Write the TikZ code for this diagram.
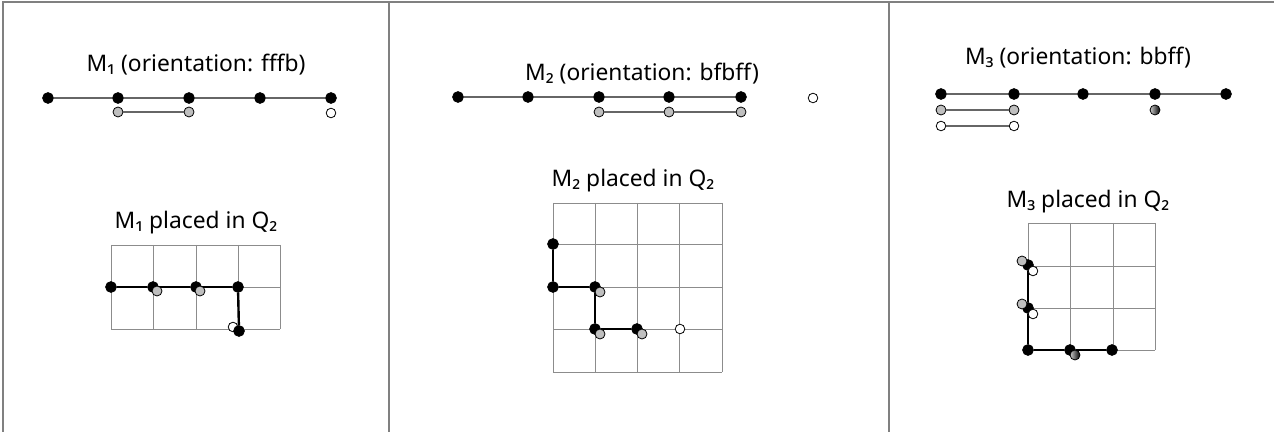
\documentclass[tikz,border=0pt]{standalone}
\usepackage{fontspec}
\setmainfont{Noto Sans}
\usepackage{tikz}
\usetikzlibrary{positioning}

\begin{document}
\begin{tikzpicture}[x=0.5pt,y=-0.5pt]
	\tikzstyle{Dot}		= [circle, draw, solid, minimum size=5pt, inner sep=0pt]
	\tikzstyle{B}		= [fill=black, minimum size=5.4pt]
	\tikzstyle{G}		= [fill=black!25]
	\tikzstyle{W}		= [fill=white, minimum size=4.8pt]
	\tikzstyle{Half}	= [left color=black!20, right color=black]
	\tikzstyle{Chain}	= [black!60, line width=0.75pt]
	\tikzstyle{Walk}	= [black, line width=1.2pt]
	\tikzstyle{Grid}	= [black!45, line width=0.4pt]
	\tikzstyle{Title}	= [anchor=base, inner sep=0pt, font=\fontsize{11.4}{13}\selectfont]
	\tikzstyle{Frame}	= [black!50, line width=0.6pt]

	\useasboundingbox (0,0) rectangle (1274,432);

	% frame
	\coordinate (f0) at (3,432);
	\coordinate (f1) at (3,2);
	\coordinate (f2) at (1274,2);
	\coordinate (d1) at (389,2);
	\coordinate (e1) at (389,432);
	\coordinate (d2) at (889,2);
	\coordinate (e2) at (889,432);
	\draw [Frame] (f0) -- (f1) -- (f2);
	\draw [Frame] (d1) -- (e1);
	\draw [Frame] (d2) -- (e2);

	% ---- M1 ----
	\node (t1) at (196,72) [Title] {M₁ (orientation: fffb)};
	\node (a1) at (48,98) [Dot][B] {};
	\node (a2) at (118,98) [Dot][B] {};
	\node (a3) at (189,98) [Dot][B] {};
	\node (a4) at (260,98) [Dot][B] {};
	\node (a5) at (331,98) [Dot][B] {};
	\node (b1) at (118,112) [Dot][G] {};
	\node (b2) at (189,112) [Dot][G] {};
	\node (c1) at (331,113) [Dot][W] {};
	\draw [Chain] (a1) to (a2);
	\draw [Chain] (a2) to (a3);
	\draw [Chain] (a3) to (a4);
	\draw [Chain] (a4) to (a5);
	\draw [Chain] (b1) to (b2);

	\node (q1) at (196,229) [Title] {M₁ placed in Q₂};
	\foreach \x in {111,153,196,238,280}
		\draw [Grid] (\x,245) -- (\x,329);
	\foreach \y in {245,287,329}
		\draw [Grid] (111,\y) -- (280,\y);
	\node (u1) at (233,327) [Dot][W] {};
	\node (p1) at (111,287) [Dot][B] {};
	\node (p2) at (153,287) [Dot][B] {};
	\node (p3) at (196,287) [Dot][B] {};
	\node (p4) at (238,287) [Dot][B] {};
	\node (p5) at (239,331) [Dot][B] {};
	\draw [Walk] (p1) to (p2);
	\draw [Walk] (p2) to (p3);
	\draw [Walk] (p3) to (p4);
	\draw [Walk] (p4) to (p5);
	\node (r1) at (157,291) [Dot][G] {};
	\node (r2) at (200,291) [Dot][G] {};

	% ---- M2 ----
	\node (t2) at (642,81) [Title] {M₂ (orientation: bfbff)};
	\node (a6) at (458,97) [Dot][B] {};
	\node (a7) at (528,97) [Dot][B] {};
	\node (a8) at (599,97) [Dot][B] {};
	\node (a9) at (669,97) [Dot][B] {};
	\node (a10) at (741,97) [Dot][B] {};
	\node (b3) at (599,112) [Dot][G] {};
	\node (b4) at (669,112) [Dot][G] {};
	\node (b5) at (741,112) [Dot][G] {};
	\node (c2) at (813,98) [Dot][W] {};
	\draw [Chain] (a6) to (a7);
	\draw [Chain] (a7) to (a8);
	\draw [Chain] (a8) to (a9);
	\draw [Chain] (a9) to (a10);
	\draw [Chain] (b3) to (b4);
	\draw [Chain] (b4) to (b5);

	\node (q2) at (633,187) [Title] {M₂ placed in Q₂};
	\foreach \x in {553,595,637,679,722}
		\draw [Grid] (\x,203) -- (\x,372);
	\foreach \y in {203,244,287,329,372}
		\draw [Grid] (553,\y) -- (722,\y);
	\node (p6) at (553,244) [Dot][B] {};
	\node (p7) at (553,287) [Dot][B] {};
	\node (p8) at (595,287) [Dot][B] {};
	\node (p9) at (595,329) [Dot][B] {};
	\node (p10) at (637,329) [Dot][B] {};
	\draw [Walk] (p6) to (p7);
	\draw [Walk] (p7) to (p8);
	\draw [Walk] (p8) to (p9);
	\draw [Walk] (p9) to (p10);
	\node (r3) at (600,292) [Dot][G] {};
	\node (r4) at (600,334) [Dot][G] {};
	\node (r5) at (642,334) [Dot][G] {};
	\node (u2) at (680,329) [Dot][W] {};

	% ---- M3 ----
	\node (t3) at (1078,65) [Title] {M₃ (orientation: bbff)};
	\node (a11) at (941,94) [Dot][B] {};
	\node (a12) at (1014,94) [Dot][B] {};
	\node (a13) at (1083,94) [Dot][B] {};
	\node (a14) at (1155,94) [Dot][B] {};
	\node (a15) at (1226,94) [Dot][B] {};
	\node (b6) at (941,110) [Dot][G] {};
	\node (b7) at (1014,110) [Dot][G] {};
	\node (b8) at (1155,110) [Dot][Half] {};
	\node (c3) at (941,126) [Dot][W] {};
	\node (c4) at (1014,126) [Dot][W] {};
	\draw [Chain] (a11) to (a12);
	\draw [Chain] (a12) to (a13);
	\draw [Chain] (a13) to (a14);
	\draw [Chain] (a14) to (a15);
	\draw [Chain] (b6) to (b7);
	\draw [Chain] (c3) to (c4);

	\node (q3) at (1088,208) [Title] {M₃ placed in Q₂};
	\foreach \x in {1028,1070,1113,1155}
		\draw [Grid] (\x,223) -- (\x,350);
	\foreach \y in {223,266,308,350}
		\draw [Grid] (1028,\y) -- (1155,\y);
	\node (p11) at (1028,265) [Dot][B] {};
	\node (p12) at (1028,308) [Dot][B] {};
	\node (p13) at (1028,350) [Dot][B] {};
	\node (p14) at (1070,350) [Dot][B] {};
	\node (p15) at (1112,350) [Dot][B] {};
	\draw [Walk] (p11) to (p12);
	\draw [Walk] (p12) to (p13);
	\draw [Walk] (p13) to (p14);
	\draw [Walk] (p14) to (p15);
	\node (r6) at (1022,261) [Dot][G] {};
	\node (r7) at (1022,304) [Dot][G] {};
	\node (u3) at (1033,271) [Dot][W] {};
	\node (u4) at (1033,314) [Dot][W] {};
	\node (r8) at (1075,355) [Dot][Half] {};
\end{tikzpicture}
\end{document}
